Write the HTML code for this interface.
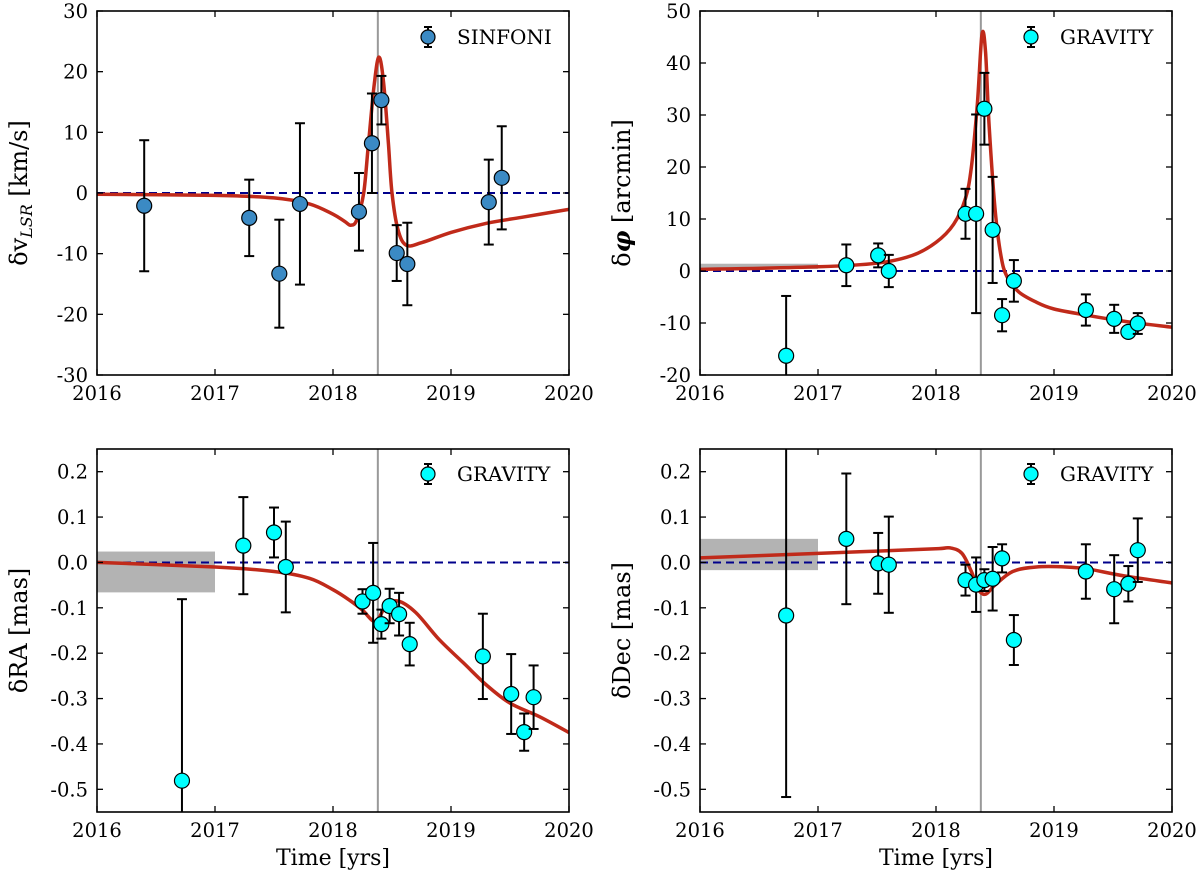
<!DOCTYPE html>
<html><head><meta charset="utf-8"><style>
html,body{margin:0;padding:0;background:#fff;overflow:hidden;width:1200px;height:879px;}
svg{display:block;font-family:"DejaVu Serif","Liberation Serif",serif;}
</style></head><body>
<svg id="fig" width="1200" height="879" viewBox="0 0 1200 879" xmlns="http://www.w3.org/2000/svg"></svg>
<script>
// ---- data (top level) ----
const tlT=[2016.40,2017.29,2017.545,2017.72,2018.22,2018.33,2018.41,2018.54,2018.63,2019.32,2019.43];
const tlV=[-2.1,-4.1,-13.3,-1.8,-3.1,8.2,15.3,-9.9,-11.7,-1.5,2.5];
const tlE=[10.8,6.3,8.9,13.3,6.4,8.2,4.0,4.6,6.8,7.0,8.5];
const tlMT=[2016,2017,2017.5,2017.8,2018.0,2018.1,2018.15,2018.2,2018.26,2018.3,2018.35,2018.39,2018.43,2018.47,2018.5,2018.55,2018.62,2018.75,2019.0,2019.3,2019.6,2020];
const tlMV=[-0.2,-0.4,-0.8,-1.8,-3.5,-4.7,-5.3,-4.5,0,8,18,22.4,18,8,0,-6,-8.6,-8.2,-6.5,-5,-4,-2.7];

const trT=[2016.73,2017.24,2017.51,2017.60,2018.25,2018.34,2018.41,2018.48,2018.56,2018.66,2019.27,2019.51,2019.63,2019.71];
const trV=[-16.3,1.1,3.0,0,11,11,31.2,7.9,-8.5,-1.9,-7.5,-9.2,-11.7,-10.1];
const trE=[11.5,4,2.3,3.1,4.8,19.1,6.9,10.2,3.1,4,3,2.7,0.6,2];
const trMT=[2016,2017,2017.5,2017.8,2018.0,2018.15,2018.25,2018.3,2018.35,2018.39,2018.42,2018.45,2018.5,2018.55,2018.6,2018.7,2018.85,2019.0,2019.3,2019.6,2020];
const trMV=[0.3,0.8,1.5,3,5.5,9,14,20,32,45.5,42,28,12,3,-1,-4,-6,-7.3,-8.6,-9.7,-10.8];

const blT=[2016.72,2017.24,2017.50,2017.60,2018.25,2018.34,2018.41,2018.48,2018.56,2018.65,2019.27,2019.51,2019.62,2019.70];
const blV=[-0.481,0.037,0.066,-0.01,-0.086,-0.067,-0.136,-0.096,-0.114,-0.18,-0.207,-0.29,-0.374,-0.297];
const blE=[0.40,0.107,0.055,0.10,0.027,0.11,0.032,0.038,0.047,0.047,0.094,0.088,0.041,0.07];
const blMT=[2016,2017,2017.5,2017.8,2018.0,2018.15,2018.25,2018.36,2018.45,2018.55,2018.7,2018.9,2019.1,2019.3,2019.5,2019.75,2020];
const blMV=[0,-0.01,-0.02,-0.035,-0.06,-0.085,-0.105,-0.13,-0.095,-0.085,-0.11,-0.17,-0.22,-0.27,-0.31,-0.34,-0.375];

const brT=[2016.73,2017.24,2017.51,2017.60,2018.25,2018.34,2018.41,2018.48,2018.56,2018.66,2019.27,2019.51,2019.63,2019.71];
const brV=[-0.117,0.052,-0.002,-0.005,-0.039,-0.049,-0.039,-0.036,0.009,-0.171,-0.02,-0.059,-0.047,0.027];
const brE=[0.40,0.144,0.067,0.106,0.034,0.06,0.024,0.07,0.031,0.055,0.06,0.075,0.039,0.07];
const brMT=[2016,2017,2017.5,2018.0,2018.12,2018.22,2018.3,2018.36,2018.42,2018.5,2018.65,2018.85,2019.1,2019.3,2019.6,2020];
const brMV=[0.01,0.02,0.025,0.03,0.032,0.02,-0.02,-0.06,-0.07,-0.05,-0.02,-0.01,-0.01,-0.015,-0.03,-0.045];

const xTicks=[2016,2017,2018,2019,2020];
const tlTicks=[-30,-20,-10,0,10,20,30];
const trTicks=[-20,-10,0,10,20,30,40,50];
const bTicks=[-0.5,-0.4,-0.3,-0.2,-0.1,0.0,0.1,0.2];
const periT=2018.38;

const NS="http://www.w3.org/2000/svg";
const svg=document.getElementById('fig');
function mk(tag,attrs,parent){const e=document.createElementNS(NS,tag);for(const k in attrs)e.setAttribute(k,attrs[k]);(parent||svg).appendChild(e);return e;}

function smoothPath(P){
  // Catmull-Rom to cubic Bezier
  let d='M'+P[0][0].toFixed(1)+','+P[0][1].toFixed(1);
  for(let i=0;i<P.length-1;i++){
    const p0=P[Math.max(0,i-1)],p1=P[i],p2=P[i+1],p3=P[Math.min(P.length-1,i+2)];
    const c1=[p1[0]+(p2[0]-p0[0])/6,p1[1]+(p2[1]-p0[1])/6];
    const c2=[p2[0]-(p3[0]-p1[0])/6,p2[1]-(p3[1]-p1[1])/6];
    d+='C'+c1[0].toFixed(1)+','+c1[1].toFixed(1)+' '+c2[0].toFixed(1)+','+c2[1].toFixed(1)+' '+p2[0].toFixed(1)+','+p2[1].toFixed(1);
  }
  return d;
}

function panel(o){
  const g=mk('g',{});
  
  
  const X=t=>o.x0+(t-2016)/4*(o.x1-o.x0);
  const Y=v=>o.y1-(v-o.ymin)/(o.ymax-o.ymin)*(o.y1-o.y0);
  const cid='clip'+o.name;
  const cp=mk('clipPath',{id:cid},g);mk('rect',{x:o.x0,y:o.y0,width:o.x1-o.x0,height:o.y1-o.y0},cp);
  const inner=mk('g',{'clip-path':'url(#'+cid+')'},g);
  if(o.band){const r=mk('rect',{x:X(2016),y:Y(o.band[1]),width:X(2017)-X(2016),height:Y(o.band[0])-Y(o.band[1]),fill:'#b3b3b3'},inner);
    }
  const pl=mk('line',{x1:X(periT),x2:X(periT),y1:o.y0,y2:o.y1,stroke:'#999',"stroke-width":2},inner);
  
  const zl=mk('line',{x1:o.x0,x2:o.x1,y1:Y(0),y2:Y(0),stroke:'#00008b',"stroke-width":2,"stroke-dasharray":"8,5"},inner);
  
  const pts=o.mt.map((t,i)=>[X(t),Y(o.mv[i])]);
  const ml=mk('path',{d:smoothPath(pts),fill:'none',stroke:'#c02a1a',"stroke-width":3.5,"stroke-linejoin":'round'},inner);
  
  o.t.forEach((t,i)=>{
    const px=X(t),py=Y(o.v[i]),a=Y(o.v[i]+o.e[i]),b=Y(o.v[i]-o.e[i]);
    const eg=mk('g',{},inner);
    
    mk('line',{x1:px,x2:px,y1:a,y2:b,stroke:'#000',"stroke-width":2},eg);
    mk('line',{x1:px-5,x2:px+5,y1:a,y2:a,stroke:'#000',"stroke-width":2},eg);
    mk('line',{x1:px-5,x2:px+5,y1:b,y2:b,stroke:'#000',"stroke-width":2},eg);
    mk('circle',{cx:px,cy:py,r:7.5,fill:o.color,stroke:'#000',"stroke-width":1.2},eg);
  });
  const fr=mk('rect',{x:o.x0,y:o.y0,width:o.x1-o.x0,height:o.y1-o.y0,fill:'none',stroke:'#000',"stroke-width":1.6},g);
  
  xTicks.forEach(t=>{const x=X(t);
    mk('line',{x1:x,x2:x,y1:o.y1,y2:o.y1-6,stroke:'#000',"stroke-width":1.3},g);
    mk('line',{x1:x,x2:x,y1:o.y0,y2:o.y0+6,stroke:'#000',"stroke-width":1.3},g);
    const tx=mk('text',{x:x,y:o.y1+25,"text-anchor":'middle',"font-size":19.5},g);tx.textContent=t;
    
  });
  o.ticks.forEach(v=>{const y=Y(v);
    mk('line',{x1:o.x0,x2:o.x0+6,y1:y,y2:y,stroke:'#000',"stroke-width":1.3},g);
    mk('line',{x1:o.x1,x2:o.x1-6,y1:y,y2:y,stroke:'#000',"stroke-width":1.3},g);
    const tx=mk('text',{x:o.x0-9,y:y+7,"text-anchor":'end',"font-size":19.5},g);tx.textContent=o.fmt(v);
    
  });
  const lg=mk('g',{},g);
  
  const lx=o.legX,ly=o.legY;
  mk('line',{x1:lx,x2:lx,y1:ly-10,y2:ly+10,stroke:'#000',"stroke-width":2},lg);
  mk('line',{x1:lx-4,x2:lx+4,y1:ly-10,y2:ly-10,stroke:'#000',"stroke-width":2},lg);
  mk('line',{x1:lx-4,x2:lx+4,y1:ly+10,y2:ly+10,stroke:'#000',"stroke-width":2},lg);
  mk('circle',{cx:lx,cy:ly,r:7,fill:o.color,stroke:'#000',"stroke-width":1.2},lg);
  const lt=mk('text',{x:lx+29,y:ly+7,"font-size":20},lg);lt.textContent=o.legend;
  const yl=mk('text',{x:0,y:0,"text-anchor":'middle',"font-size":24,transform:`translate(${o.x0-70},${(o.y0+o.y1)/2}) rotate(-90)`},g);
  yl.innerHTML=o.ylabel;
  
  if(o.xlabel){const xl=mk('text',{x:(o.x0+o.x1)/2,y:865,"text-anchor":'middle',"font-size":22},g);xl.textContent='Time [yrs]';
    }
}
const fi=v=>String(v);
const f1=v=>v.toFixed(1);
panel({name:'panel-velocity',x0:97,x1:569,y0:11,y1:375,ymin:-30,ymax:30,t:tlT,v:tlV,e:tlE,mt:tlMT,mv:tlMV,ticks:tlTicks,fmt:fi,color:'#3b8ac4',legend:'SINFONI',legX:428,legY:37,ylabel:'δv<tspan font-size="16" dy="5" font-style="italic">LSR</tspan><tspan dy="-5"> [km/s]</tspan>'});
panel({name:'panel-angle',x0:700,x1:1172,y0:11,y1:375,ymin:-20,ymax:50,t:trT,v:trV,e:trE,mt:trMT,mv:trMV,ticks:trTicks,fmt:fi,color:'#00ffff',legend:'GRAVITY',legX:1031,legY:37,band:[0.4,1.4],ylabel:'δ<tspan font-style="italic" font-weight="bold">φ</tspan> [arcmin]'});
panel({name:'panel-ra',x0:97,x1:569,y0:449,y1:812,ymin:-0.55,ymax:0.25,t:blT,v:blV,e:blE,mt:blMT,mv:blMV,ticks:bTicks,fmt:f1,color:'#00ffff',legend:'GRAVITY',legX:428,legY:474,band:[-0.066,0.024],ylabel:'δRA [mas]',xlabel:true});
panel({name:'panel-dec',x0:700,x1:1172,y0:449,y1:812,ymin:-0.55,ymax:0.25,t:brT,v:brV,e:brE,mt:brMT,mv:brMV,ticks:bTicks,fmt:f1,color:'#00ffff',legend:'GRAVITY',legX:1031,legY:474,band:[-0.017,0.052],ylabel:'δDec [mas]',xlabel:true});
</script>
</body></html>
